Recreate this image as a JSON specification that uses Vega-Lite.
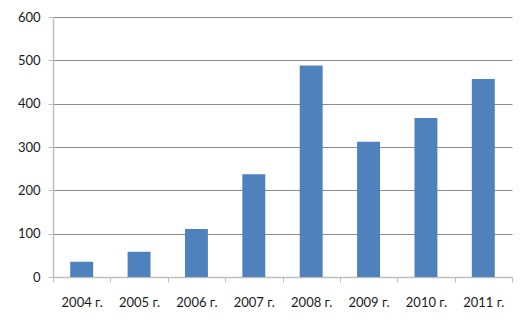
{
  "$schema": "https://vega.github.io/schema/vega-lite/v6.json",
  "width": 459,
  "height": 260,
  "autosize": "none",
  "padding": {"left": 53, "top": 17, "right": 17, "bottom": 50},
  "background": "#ffffff",
  "config": {
    "view": {"stroke": null},
    "font": "Lato",
    "axis": {
      "labelFont": "Lato",
      "labelFontSize": 13,
      "labelColor": "#1a1a1a",
      "domainColor": "#bfbfbf",
      "domainWidth": 1.5,
      "tickColor": "#bfbfbf",
      "tickWidth": 1,
      "tickSize": 5,
      "gridColor": "#8c8c8c",
      "gridWidth": 1
    }
  },
  "data": {
    "values": [
      {"year": "2004 г.", "value": 35},
      {"year": "2005 г.", "value": 58},
      {"year": "2006 г.", "value": 111},
      {"year": "2007 г.", "value": 237},
      {"year": "2008 г.", "value": 488},
      {"year": "2009 г.", "value": 312},
      {"year": "2010 г.", "value": 367},
      {"year": "2011 г.", "value": 457}
    ]
  },
  "mark": {"type": "bar", "color": "#4F81BD", "width": {"band": 0.4}},
  "encoding": {
    "x": {
      "field": "year",
      "type": "nominal",
      "sort": null,
      "scale": {"paddingInner": 0, "paddingOuter": 0},
      "axis": {
        "title": null,
        "labelAngle": 0,
        "tickBand": "extent",
        "labelPadding": 14,
        "grid": false
      }
    },
    "y": {
      "field": "value",
      "type": "quantitative",
      "scale": {"domain": [0, 600], "nice": false},
      "axis": {
        "title": null,
        "values": [0, 100, 200, 300, 400, 500, 600],
        "grid": true,
        "labelPadding": 8
      }
    }
  }
}
